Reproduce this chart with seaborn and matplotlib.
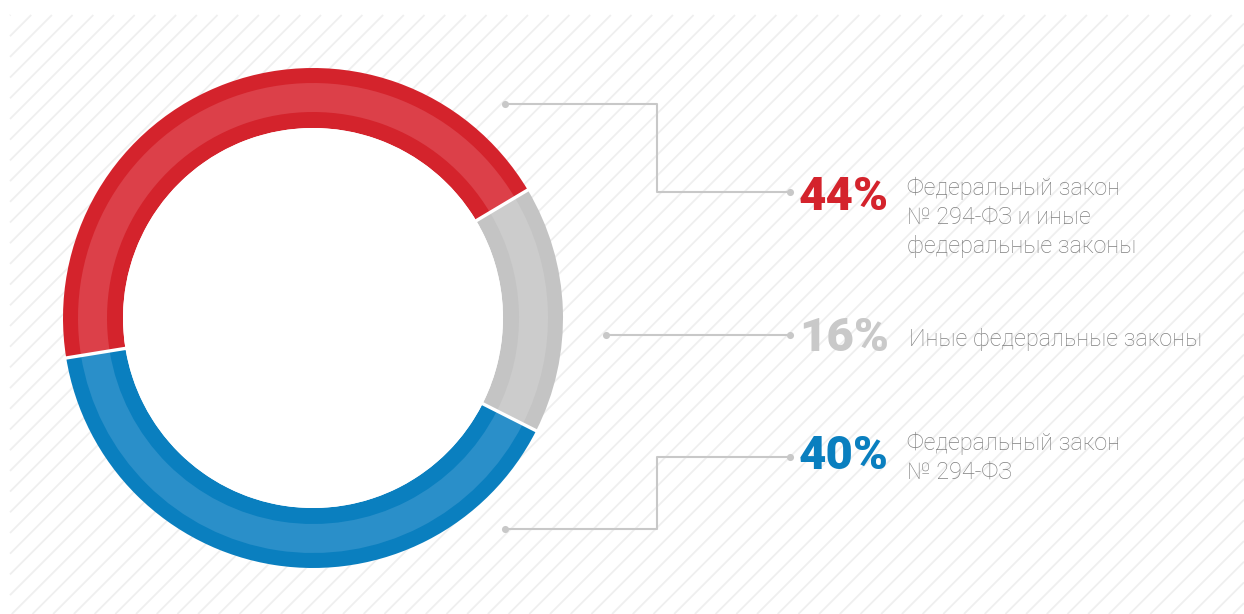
import numpy as np
import matplotlib
matplotlib.use("Agg")
import matplotlib.pyplot as plt
import seaborn as sns
from matplotlib.collections import LineCollection
from matplotlib.patches import Circle

# --- data ---------------------------------------------------------------
shares = [44, 16, 40]
descriptions = [
    "Федеральный закон\n№ 294-ФЗ и иные\nфедеральные законы",
    "Иные федеральные законы",
    "Федеральный закон\n№ 294-ФЗ",
]
pct_labels = [f"{v}%" for v in shares]

# --- style --------------------------------------------------------------
sns.set_theme(style="white")
plt.rcParams["font.family"] = ["Roboto", "DejaVu Sans"]

ring_dark = ["#d4232c", "#c4c4c4", "#0a7fbf"]
ring_light = ["#dc4049", "#cccccc", "#2a8fc9"]
pct_colors = ["#d4232c", "#c9c9c9", "#0a7fbf"]
text_gray = "#808080"
line_gray = "#c8c8c8"

W, H = 1244, 614
fig = plt.figure(figsize=(W / 100, H / 100), dpi=100)
fig.patch.set_facecolor("white")

# background canvas in pixel units (y downwards)
bg = fig.add_axes([0, 0, 1, 1])
bg.set_xlim(0, W)
bg.set_ylim(H, 0)
bg.axis("off")

# diagonal hatching of the backdrop
x0, y0, x1, y1 = 10, 15, W, H
step = 20.7
segs = []
for c in np.arange(x0 + y0 + 0.5, x1 + y1 + step, step):
    xa = max(x0, c - y1)
    xb = min(x1, c - y0)
    if xb > xa:
        segs.append([(xa, c - xa), (xb, c - xb)])
bg.add_collection(LineCollection(segs, colors="#efefef", linewidths=1.3, zorder=0))

# --- donut --------------------------------------------------------------
cx, cy, R = 313, 318, 250
dax = fig.add_axes([(cx - R) / W, (H - cy - R) / H, 2 * R / W, 2 * R / H])
dax.set_facecolor("none")
start = 189.2
dax.pie(shares, colors=ring_dark, radius=1.0, startangle=start, counterclock=False,
        wedgeprops=dict(width=0.24, linewidth=0))
dax.pie(shares, colors=ring_light, radius=0.94, startangle=start, counterclock=False,
        wedgeprops=dict(width=0.116, linewidth=0))
dax.add_patch(Circle((0, 0), 0.76, facecolor="white", edgecolor="none", zorder=3))

# white separators between segments
bounds = start - 3.6 * np.cumsum([0] + shares[:-1])
for a in np.deg2rad(bounds):
    dax.plot([0.74 * np.cos(a), 1.02 * np.cos(a)], [0.74 * np.sin(a), 1.02 * np.sin(a)],
             color="white", lw=2.4, solid_capstyle="butt", zorder=4)
dax.set_xlim(-1, 1)
dax.set_ylim(-1, 1)
dax.set_aspect("equal")
dax.axis("off")

# --- leader lines -------------------------------------------------------
leaders = [
    [(505, 104), (657, 104), (657, 192), (790, 192)],
    [(606, 335), (790, 335)],
    [(505, 529), (657, 529), (657, 457), (790, 457)],
]
for pts in leaders:
    xs, ys = zip(*pts)
    bg.plot(xs, ys, color=line_gray, lw=1.5, zorder=2)
    bg.scatter([xs[0], xs[-1]], [ys[0], ys[-1]], s=26, color=line_gray, zorder=3, linewidths=0)

# --- labels -------------------------------------------------------------
pct_y = [197, 338, 456]
desc_y = [189, 340, 444]
desc_x = [907, 909, 907]
for i in range(3):
    bg.text(799, pct_y[i], pct_labels[i], color=pct_colors[i], fontsize=34,
            fontweight="heavy", ha="left", va="center", zorder=5)
    bg.text(desc_x[i], desc_y[i] - 12, descriptions[i], color=text_gray, fontsize=16.8,
            fontweight="light", ha="left", va="top", linespacing=1.33, zorder=5)

fig.savefig("out.png", dpi=100, facecolor="white")
